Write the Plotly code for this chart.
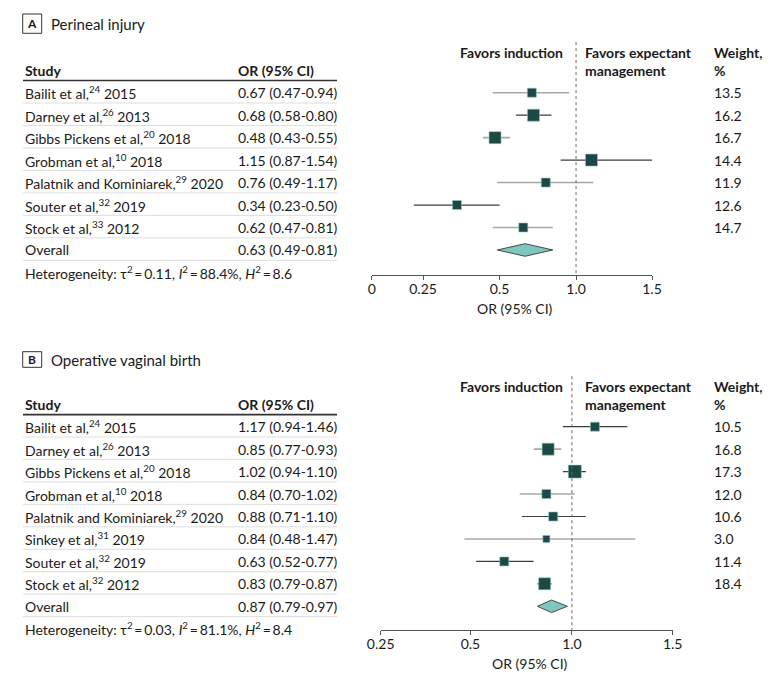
import math
import plotly.graph_objects as go

# ---------------- data ----------------
studies_A = ["Bailit et al,<sup>24</sup> 2015", "Darney et al,<sup>26</sup> 2013",
             "Gibbs Pickens et al,<sup>20</sup> 2018", "Grobman et al,<sup>10</sup> 2018",
             "Palatnik and Kominiarek,<sup>29</sup> 2020", "Souter et al,<sup>32</sup> 2019",
             "Stock et al,<sup>33</sup> 2012"]
or_A = [0.67, 0.68, 0.48, 1.15, 0.76, 0.34, 0.62]
lo_A = [0.47, 0.58, 0.43, 0.87, 0.49, 0.23, 0.47]
hi_A = [0.94, 0.80, 0.55, 1.54, 1.17, 0.50, 0.81]
hi_A_drawn = [0.94, 0.80, 0.55, 1.99, 1.17, 0.50, 0.81]   # upper whisker ends as drawn
weight_A = [13.5, 16.2, 16.7, 14.4, 11.9, 12.6, 14.7]
overall_A = [0.63, 0.49, 0.81]
het_A = ["0.11", "88.4%", "8.6"]
ticks_A = [0.157, 0.25, 0.5, 1.0, 1.99]
ticklabels_A = ["0", "0.25", "0.5", "1.0", "1.5"]

studies_B = ["Bailit et al,<sup>24</sup> 2015", "Darney et al,<sup>26</sup> 2013",
             "Gibbs Pickens et al,<sup>20</sup> 2018", "Grobman et al,<sup>10</sup> 2018",
             "Palatnik and Kominiarek,<sup>29</sup> 2020", "Sinkey et al,<sup>31</sup> 2019",
             "Souter et al,<sup>32</sup> 2019", "Stock et al,<sup>32</sup> 2012"]
or_B = [1.17, 0.85, 1.02, 0.84, 0.88, 0.84, 0.63, 0.83]
lo_B = [0.94, 0.77, 0.94, 0.70, 0.71, 0.48, 0.52, 0.79]
hi_B = [1.46, 0.93, 1.10, 1.02, 1.10, 1.47, 0.77, 0.87]
hi_B_drawn = [1.46, 0.93, 1.10, 1.02, 1.10, 1.54, 0.77, 0.87]
weight_B = [10.5, 16.8, 17.3, 12.0, 10.6, 3.0, 11.4, 18.4]
overall_B = [0.87, 0.79, 0.97]
het_B = ["0.03", "81.1%", "8.4"]
ticks_B = [0.271, 0.5, 1.0, 1.99]
ticklabels_B = ["0.25", "0.5", "1.0", "1.5"]

# ---------------- styles ----------------
OFF = 8                     # page body margin of the html page
W, H = 780 - 2 * OFF, 683 - 2 * OFF
FONT = "Lato"
TXT = "#1a1a1a"
SQ_FILL = "#1c4846"
SQ_EDGE = "#8cc6c2"
DIA_FILL = "#7fc5c0"
CI_DARK = "#3d3d3d"
CI_GRAY = "#a8a8a8"
FS = 14

sq_px_A = [9, 12, 12, 12, 9, 9, 9]
sq_px_B = [9, 12, 13, 9, 9, 7, 9, 12]
ci_col_A = [CI_GRAY, CI_DARK, CI_GRAY, CI_DARK, CI_GRAY, CI_DARK, CI_GRAY]
ci_col_B = [CI_DARK, CI_GRAY, CI_DARK, CI_GRAY, CI_DARK, CI_GRAY, CI_DARK, CI_DARK]


def px(x):
    return (x - OFF) / W


def py(y):
    return 1 - (y - OFF) / H


fig = go.Figure()
annotations = []
shapes = []


def note(text, x, y, yref="paper", xanchor="left", size=FS):
    annotations.append(dict(text=text, x=px(x), y=(py(y) if yref == "paper" else y),
                            xref="paper", yref=yref, xanchor=xanchor, yanchor="middle",
                            showarrow=False, font=dict(family=FONT, size=size, color=TXT)))


panels = [
    dict(letter="A", title="Perineal injury", studies=studies_A, orr=or_A, lo=lo_A, hi=hi_A,
         hid=hi_A_drawn, w=weight_A, ov=overall_A, het=het_A, ticks=ticks_A, tl=ticklabels_A,
         sq=sq_px_A, cc=ci_col_A, xa="x", ya="y", xdom=(371.7, 652.0), xr=(0.157, 1.99),
         ydom=(274.7, 40), yr=(9.1, -1.345), box_y=(14, 33.3), ttl_y=308.5),
    dict(letter="B", title="Operative vaginal birth", studies=studies_B, orr=or_B, lo=lo_B, hi=hi_B,
         hid=hi_B_drawn, w=weight_B, ov=overall_B, het=het_B, ticks=ticks_B, tl=ticklabels_B,
         sq=sq_px_B, cc=ci_col_B, xa="x2", ya="y2", xdom=(380.7, 672.7), xr=(0.271, 1.99),
         ydom=(630, 375), yr=(10.056, -1.303), box_y=(351.7, 367.3), ttl_y=663),
]

layout_axes = {}
for k, p in enumerate(panels):
    n = len(p["studies"])
    rows = list(range(1, n + 1))
    xa, ya = p["xa"], p["ya"]
    for i in range(n):
        fig.add_trace(go.Scatter(x=[p["lo"][i], p["hid"][i]], y=[rows[i], rows[i]], mode="lines",
                                 line=dict(color=p["cc"][i], width=1.6 if p["cc"][i] == CI_GRAY else 1.2),
                                 xaxis=xa, yaxis=ya, showlegend=False, hoverinfo="skip"))
    fig.add_trace(go.Scatter(x=p["orr"], y=rows, mode="markers",
                             marker=dict(symbol="square", size=p["sq"], color=SQ_FILL, opacity=1,
                                         line=dict(color=SQ_EDGE, width=0.6)),
                             xaxis=xa, yaxis=ya, showlegend=False))
    ov_row = n + 1
    hh = 0.28
    est, lo, hi = p["ov"]
    fig.add_trace(go.Scatter(x=[lo, est, hi, est, lo], y=[ov_row, ov_row - hh, ov_row, ov_row + hh, ov_row],
                             mode="lines", fill="toself", fillcolor=DIA_FILL,
                             line=dict(color="#3a3a3a", width=0.9), xaxis=xa, yaxis=ya,
                             showlegend=False))

    axname = "xaxis" if k == 0 else "xaxis2"
    yname = "yaxis" if k == 0 else "yaxis2"
    layout_axes[axname] = dict(
        type="log", domain=[px(p["xdom"][0]), px(p["xdom"][1])],
        range=[math.log10(p["xr"][0]), math.log10(p["xr"][1])], anchor=ya, automargin=False,
        tickvals=p["ticks"], ticktext=p["tl"], ticks="outside", ticklen=4, tickwidth=1,
        ticklabelstandoff=-3,
        tickcolor="#555", showline=True, linecolor="#555", linewidth=1, showgrid=False,
        zeroline=False, tickfont=dict(family=FONT, size=FS, color=TXT))
    layout_axes[yname] = dict(domain=[py(p["ydom"][0]), py(p["ydom"][1])], automargin=False,
                              range=list(p["yr"]), visible=False, anchor=xa)

    note("OR (95% CI)", (p["xdom"][0] + p["xdom"][1]) / 2 + 3, p["ttl_y"], xanchor="center")
    shapes.append(dict(type="line", xref=xa, yref=ya, x0=1, x1=1, y0=-1.25, y1=p["yr"][0],
                       line=dict(color="#666", width=1, dash="dot")))
    shapes.append(dict(type="rect", xref="paper", yref="paper", x0=px(22.7), x1=px(41.7),
                       y0=py(p["box_y"][1]), y1=py(p["box_y"][0]), line=dict(color="#333", width=1)))
    by = (p["box_y"][0] + p["box_y"][1]) / 2
    note("<b>" + p["letter"] + "</b>", 32.2, by, xanchor="center", size=12)
    note(p["title"], 49, by, size=15)
    yr = ya
    for txt, x, anc in [("<b>Study</b>", 23, "left"), ("<b>OR (95% CI)</b>", 236, "left"),
                        ("<b>management</b>", 582.5, "left"), ("<b>%</b>", 711.5, "left")]:
        note(txt, x, 0, yref=yr, xanchor=anc)
    for txt, x, anc in [("<b>Favors induction</b>", 565, "right"),
                        ("<b>Favors expectant</b>", 582.5, "left"), ("<b>Weight,</b>", 711.5, "left")]:
        note(txt, x, -0.79, yref=yr, xanchor=anc)
    shapes.append(dict(type="line", xref="paper", yref=yr, x0=px(23), x1=px(337), y0=0.46, y1=0.46,
                       line=dict(color="#333", width=1.6)))
    for i in range(n):
        r = rows[i]
        note(p["studies"][i], 23, r, yref=yr)
        note(f"{p['orr'][i]:.2f} ({p['lo'][i]:.2f}-{p['hi'][i]:.2f})", 236, r, yref=yr)
        note(f"{p['w'][i]:.1f}", 711.5, r, yref=yr)
    note("Overall", 23, ov_row, yref=yr)
    note(f"{est:.2f} ({lo:.2f}-{hi:.2f})", 236, ov_row, yref=yr)
    t2, i2, h2 = p["het"]
    het = (f"Heterogeneity: τ<sup>2</sup>\u2009=\u2009{t2}, <i>I</i><sup>2</sup>\u2009=\u2009{i2}, "
           f"<i>H</i><sup>2</sup>\u2009=\u2009{h2}")
    note(het, 23, ov_row + 1, yref=yr)
    for r in range(1, ov_row + 1):
        shapes.append(dict(type="line", xref="paper", yref=yr, x0=px(23), x1=px(337),
                           y0=r + 0.46, y1=r + 0.46, line=dict(color="#dedede", width=1)))

fig.update_layout(width=W, height=H, margin=dict(l=0, r=0, t=0, b=0, pad=0, autoexpand=False),
                  plot_bgcolor="white", paper_bgcolor="white", showlegend=False,
                  annotations=annotations, shapes=shapes, **layout_axes)

fig.write_html("out.html")
